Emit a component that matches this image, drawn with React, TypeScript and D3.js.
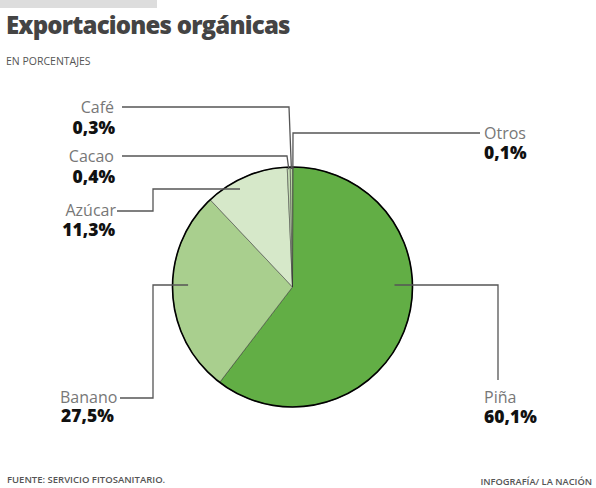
import React from "react";
import * as d3 from "d3";

const categories = ["Otros", "Piña", "Banano", "Azúcar", "Cacao", "Café"];
const values = [0.1, 60.1, 27.5, 11.3, 0.4, 0.3];
const valueLabels = ["0,1%", "60,1%", "27,5%", "11,3%", "0,4%", "0,3%"];
const colors = ["#7fbf5f", "#62ae45", "#a9cf8e", "#d6e8c9", "#c5dcb5", "#b8d6a2"];

const W = 596;
const H = 488;
const cx = 292.5;
const cy = 287;
const R = 120;

export default function App() {
  const pie = d3.pie<number>().sort(null).value((d) => d)(values);
  const arc = d3.arc<d3.PieArcDatum<number>>().innerRadius(0).outerRadius(R);
  const pt = (i: number, frac: number, r: number) => {
    const a = pie[i].startAngle + (pie[i].endAngle - pie[i].startAngle) * frac;
    return [cx + Math.sin(a) * r, cy - Math.cos(a) * r];
  };
  const pOtros = pt(0, 0.5, R - 2);
  const pCacao = pt(4, 0.5, R - 2);
  const pCafe = pt(5, 0.5, R - 2);
  const yMid = cy - 2;
  const pPinaX = cx + R * 0.85;
  const pBananoX = cx - R * 0.87;
  const pAzucar = [cx - 52.5, cy - 98];
  const lineStyle = { fill: "none", stroke: "#555", strokeWidth: 1.3 };
  const font = "'Open Sans', sans-serif";
  const nameStyle = { fontFamily: font, fontSize: 16, fill: "#777" };
  const valStyle = { fontFamily: font, fontSize: 17.5, fontWeight: 800, fill: "#111" };
  return (
    <svg width={W} height={H} style={{ position: "absolute", left: 0, top: 0, background: "#fff" }}>
      <rect x={0} y={0} width={157} height={8} fill="#ddd" />
      <text x={6} y={34} fontFamily={font} fontSize={24} fontWeight={800} fill="#444" letterSpacing={-0.8}>
        Exportaciones orgánicas
      </text>
      <text x={6} y={65} fontFamily={font} fontSize={10.5} fill="#555">EN PORCENTAJES</text>
      <g transform={`translate(${cx},${cy})`}>
        {pie.map((d, i) => (
          <path key={i} d={arc(d) || ""} fill={colors[i]} stroke="#333" strokeWidth={0.5} />
        ))}
        <circle r={R} fill="none" stroke="#000" strokeWidth={1.6} />
      </g>
      <polyline points={`${pCafe[0]},${pCafe[1]} 289,107 122,107`} style={lineStyle} />
      <polyline points={`${pCacao[0]},${pCacao[1]} 287,156 122,156`} style={lineStyle} />
      <polyline points={`${pOtros[0]},${pOtros[1]} 293,133 480,133`} style={lineStyle} />
      <polyline points={`${pAzucar[0]},${pAzucar[1]} 153,${pAzucar[1]} 153,211 117,211`} style={lineStyle} />
      <polyline points={`${pBananoX},${yMid} 153,${yMid} 153,398 120,398`} style={lineStyle} />
      <polyline points={`${pPinaX},${yMid} 498,${yMid} 498,380`} style={lineStyle} />
      <text x={114} y={113} textAnchor="end" style={nameStyle}>{categories[5]}</text>
      <text x={115} y={134} textAnchor="end" style={valStyle}>{valueLabels[5]}</text>
      <text x={114} y={162} textAnchor="end" style={nameStyle}>{categories[4]}</text>
      <text x={115} y={183} textAnchor="end" style={valStyle}>{valueLabels[4]}</text>
      <text x={116} y={216} textAnchor="end" style={nameStyle}>{categories[3]}</text>
      <text x={115} y={236} textAnchor="end" style={valStyle}>{valueLabels[3]}</text>
      <text x={484} y={139} style={nameStyle}>{categories[0]}</text>
      <text x={484} y={159} style={valStyle}>{valueLabels[0]}</text>
      <text x={60} y={403} style={nameStyle}>{categories[2]}</text>
      <text x={61} y={422} style={valStyle}>{valueLabels[2]}</text>
      <text x={484} y={403} style={nameStyle}>{categories[1]}</text>
      <text x={484} y={423} style={valStyle}>{valueLabels[1]}</text>
      <text x={7} y={483} fontFamily={font} fontSize={9.5} fontWeight={600} fill="#555">FUENTE: SERVICIO FITOSANITARIO.</text>
      <text x={592} y={485} textAnchor="end" fontFamily={font} fontSize={9.3} fontWeight={600} fill="#555">INFOGRAFÍA/ LA NACIÓN</text>
    </svg>
  );
}
